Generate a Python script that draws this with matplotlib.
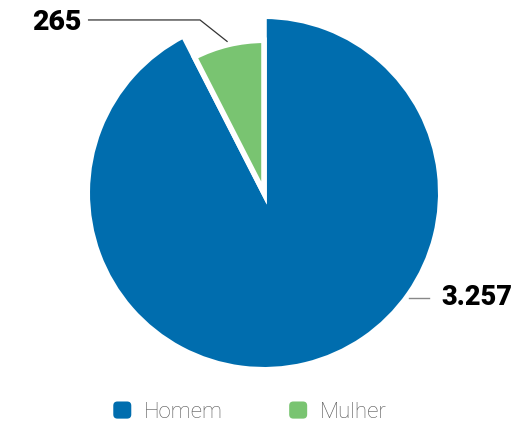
import numpy as np
import matplotlib
matplotlib.use("Agg")
import matplotlib.pyplot as plt
import matplotlib.patches as mpatches
from matplotlib.legend_handler import HandlerPatch

categories = ["Homem", "Mulher"]
values = [3257, 265]
value_labels = ["3.257", "265"]
colors = ["#006dae", "#79c471"]

W, H, DPI = 515, 424, 100
fig = plt.figure(figsize=(W / DPI, H / DPI), dpi=DPI)
ax = fig.add_axes([0, 0, 1, 1])

R_PX = 176.75
CX, CY = 264, 193

wedges, _ = ax.pie(values, colors=colors, startangle=90, counterclock=False,
                   wedgeprops=dict(edgecolor="white", linewidth=4))
wedges[1].set_radius(0.864)

ax.set_aspect("auto")
ax.set_xlim(-CX / R_PX, (W - CX) / R_PX)
ax.set_ylim(-(H - CY) / R_PX, CY / R_PX)
ax.axis("off")

# label for Mulher (green)
w = wedges[1]
mid = np.deg2rad((w.theta1 + w.theta2) / 2)
ax_x, ax_y = 0.88 * np.cos(mid), 0.88 * np.sin(mid)
ly = 0.979
ax.plot([-0.996, -0.362, ax_x], [ly, ly, ax_y], color="#333333", lw=0.9,
        solid_capstyle="butt")
ax.text(-1.035, 0.962, value_labels[1], ha="right", va="center",
        fontsize=20.5, fontweight="heavy", family="Roboto", color="#000000")

# label for Homem (blue)
ax.plot([0.820, 0.934], [-0.594, -0.594], color="#888888", lw=1.0)
ax.text(1.005, -0.594, value_labels[0], ha="left", va="center",
        fontsize=19.5, fontweight="heavy", family="Roboto", color="#000000")


class RoundHandler(HandlerPatch):
    def create_artists(self, legend, orig_handle, xdescent, ydescent,
                       width, height, fontsize, trans):
        p = mpatches.FancyBboxPatch((-xdescent + 1.5, -ydescent + 1.5),
                                    width - 3, height - 3,
                                    boxstyle="round,pad=1.5,rounding_size=3",
                                    facecolor=orig_handle.get_facecolor(),
                                    edgecolor="none", transform=trans)
        return [p]


handles = [mpatches.Patch(facecolor=c) for c in colors]
leg = fig.legend(handles, categories, loc="center",
                 bbox_to_anchor=(0.485, 0.028), ncol=2, frameon=False,
                 handlelength=0.81, handleheight=0.81, handletextpad=0.55,
                 columnspacing=3.0,
                 prop=dict(family="Roboto", weight="light", size=16),
                 handler_map={mpatches.Patch: RoundHandler()})
for t in leg.get_texts():
    t.set_color("#555555")

fig.savefig("out.png", dpi=DPI)
